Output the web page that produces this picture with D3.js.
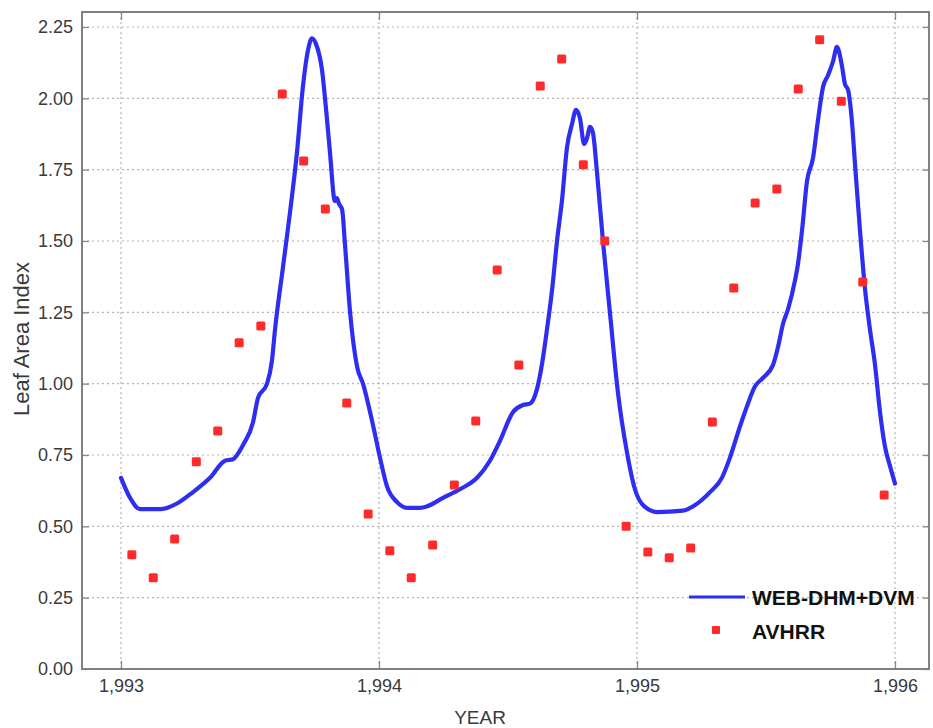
<!DOCTYPE html>
<html>
<head>
<meta charset="utf-8">
<script src="https://cdn.jsdelivr.net/npm/d3@7"></script>
<style>
  html, body { margin: 0; padding: 0; background: #fff; }
  svg { display: block; font-family: "Liberation Sans", Arial, sans-serif; }
</style>
</head>
<body>
<svg id="chart" width="933" height="728"></svg>
<script>
// ---- data ----
const modelYears = [
  1993.000, 1993.035, 1993.074, 1993.151, 1993.217, 1993.279, 1993.345, 1993.403, 1993.434, 1993.473,
  1993.512, 1993.531, 1993.566, 1993.585, 1993.597, 1993.628, 1993.655, 1993.682, 1993.705,
  1993.725, 1993.740, 1993.756, 1993.779, 1993.795, 1993.810, 1993.829, 1993.837, 1993.845, 1993.857,
  1993.868, 1993.888, 1993.915, 1993.938, 1993.973, 1994.004, 1994.031, 1994.070, 1994.109, 1994.159,
  1994.186, 1994.248, 1994.314, 1994.380, 1994.430, 1994.469, 1994.519, 1994.558, 1994.585, 1994.612,
  1994.632, 1994.651, 1994.671, 1994.690, 1994.709, 1994.729, 1994.748, 1994.764, 1994.779, 1994.795,
  1994.806, 1994.818, 1994.829, 1994.845, 1994.868, 1994.895, 1994.926, 1994.961, 1994.992, 1995.023,
  1995.078, 1995.178, 1995.217, 1995.283, 1995.329, 1995.360, 1995.399, 1995.426, 1995.457, 1995.488,
  1995.527, 1995.547, 1995.566, 1995.585, 1995.612, 1995.624, 1995.640, 1995.659, 1995.682, 1995.701,
  1995.721, 1995.740, 1995.760, 1995.775, 1995.795, 1995.806, 1995.818, 1995.833, 1995.845, 1995.864,
  1995.884, 1995.903, 1995.922, 1995.942, 1995.961, 1995.981, 1996.000
];
const modelLAI = [
  0.67, 0.60, 0.56, 0.56, 0.58, 0.62, 0.67, 0.73, 0.735, 0.785,
  0.866, 0.95, 1.00, 1.08, 1.19, 1.41, 1.60, 1.81, 2.04,
  2.17, 2.21, 2.19, 2.10, 1.96, 1.81, 1.64, 1.65, 1.63, 1.61,
  1.49, 1.25, 1.06, 1.00, 0.87, 0.74, 0.64, 0.585, 0.565, 0.565,
  0.57, 0.60, 0.63, 0.67, 0.73, 0.80, 0.90, 0.925, 0.93, 0.98,
  1.07, 1.19, 1.33, 1.50, 1.64, 1.83, 1.91, 1.96, 1.93, 1.84,
  1.86, 1.90, 1.88, 1.74, 1.50, 1.25, 0.97, 0.76, 0.63, 0.575,
  0.55, 0.555, 0.57, 0.62, 0.67, 0.74, 0.85, 0.92, 0.99, 1.02,
  1.065, 1.13, 1.21, 1.26, 1.36, 1.42, 1.54, 1.71, 1.79, 1.92,
  2.04, 2.08, 2.13, 2.18, 2.11, 2.05, 2.03, 1.92, 1.77, 1.54,
  1.33, 1.19, 1.07, 0.90, 0.78, 0.71, 0.65
];
const avhrrYears = [
  1993.042, 1993.125, 1993.208, 1993.292, 1993.375, 1993.458, 1993.542, 1993.625, 1993.708, 1993.792, 1993.875, 1993.958,
  1994.042, 1994.125, 1994.208, 1994.292, 1994.375, 1994.458, 1994.542, 1994.625, 1994.708, 1994.792, 1994.875, 1994.958,
  1995.042, 1995.125, 1995.208, 1995.292, 1995.375, 1995.458, 1995.542, 1995.625, 1995.708, 1995.792, 1995.875, 1995.958
];
const avhrrLAI = [
  0.40, 0.32, 0.456, 0.726, 0.834, 1.143, 1.202, 2.015, 1.78, 1.612, 0.932, 0.543,
  0.414, 0.32, 0.435, 0.645, 0.869, 1.398, 1.065, 2.043, 2.138, 1.767, 1.50, 0.50,
  0.41, 0.39, 0.424, 0.866, 1.335, 1.633, 1.682, 2.033, 2.205, 1.99, 1.356, 0.61
];
const xTicks = [1993, 1994, 1995, 1996];
const yTicks = [0, 0.25, 0.5, 0.75, 1.0, 1.25, 1.5, 1.75, 2.0, 2.25];
const seriesNames = ["WEB-DHM+DVM", "AVHRR"];

// ---- layout ----
const svg = d3.select("#chart");
const frame = { left: 82, top: 12, right: 929, bottom: 669 };
const x = d3.scaleLinear().domain([1993, 1996]).range([121, 895]);
const y = d3.scaleLinear().domain([0, 2.25]).range([669, 27]);
const lineColor = "#2e2ef2";
const dotColor = "#ff2b2b";
const fmtYear = d3.format(",d");

// grid
const grid = svg.append("g").attr("stroke", "#b4b4b4").attr("stroke-width", 1.2).attr("stroke-dasharray", "2,3");
grid.selectAll(".gy").data(yTicks.filter(d => d > 0)).join("line")
  .attr("x1", frame.left).attr("x2", frame.right)
  .attr("y1", d => y(d)).attr("y2", d => y(d));
grid.selectAll(".gx").data(xTicks).join("line")
  .attr("x1", d => x(d)).attr("x2", d => x(d))
  .attr("y1", frame.top).attr("y2", frame.bottom);

// axes
const axisLeft = svg.append("g").attr("transform", `translate(${frame.left},0)`)
  .call(d3.axisLeft(y).tickValues(yTicks).tickFormat(d3.format(".2f")).tickSize(-7).tickPadding(9));
const axisBottom = svg.append("g").attr("transform", `translate(0,${frame.bottom})`)
  .call(d3.axisBottom(x).tickValues(xTicks).tickFormat(fmtYear).tickSize(-8).tickPadding(10));
const axisRight = svg.append("g").attr("transform", `translate(${frame.right},0)`)
  .call(d3.axisRight(y).tickValues(yTicks).tickFormat("").tickSize(-6));
const axisTop = svg.append("g").attr("transform", `translate(0,${frame.top})`)
  .call(d3.axisTop(x).tickValues(xTicks).tickFormat("").tickSize(-8));
[axisLeft, axisBottom, axisRight, axisTop].forEach(g => {
  g.select(".domain").remove();
  g.selectAll(".tick line").attr("stroke", "#888").attr("stroke-width", 1.3);
  g.selectAll(".tick text").attr("fill", "#3a3a3a").style("font-size", "18px")
    .style("font-family", "'Liberation Sans', Arial, sans-serif");
});

// frame
svg.append("rect")
  .attr("x", frame.left).attr("y", frame.top)
  .attr("width", frame.right - frame.left).attr("height", frame.bottom - frame.top)
  .attr("fill", "none").attr("stroke", "#808080").attr("stroke-width", 2);

// model line
const modelData = modelYears.map((t, i) => ({ t, v: modelLAI[i] }));
svg.append("path").datum(modelData)
  .attr("fill", "none").attr("stroke", lineColor).attr("stroke-width", 4.2)
  .attr("stroke-linejoin", "round").attr("stroke-linecap", "round")
  .attr("d", d3.line().x(d => x(d.t)).y(d => y(d.v)).curve(d3.curveMonotoneX));

// AVHRR points
const avData = avhrrYears.map((t, i) => ({ t, v: avhrrLAI[i] }));
svg.append("g").selectAll("rect").data(avData).join("rect")
  .attr("x", d => x(d.t) - 4.5).attr("y", d => y(d.v) - 4.5)
  .attr("width", 9).attr("height", 9).attr("rx", 1.5)
  .attr("fill", dotColor);

// axis titles
svg.append("text").attr("x", 480).attr("y", 724).attr("text-anchor", "middle")
  .attr("fill", "#3a3a3a").style("font-size", "19px").text("YEAR");
svg.append("text").attr("transform", "translate(29,339) rotate(-90)").attr("text-anchor", "middle")
  .attr("fill", "#3a3a3a").style("font-size", "22px").text("Leaf Area Index");

// legend
const lg = svg.append("g");
lg.append("line").attr("x1", 689).attr("x2", 745).attr("y1", 597).attr("y2", 597)
  .attr("stroke", lineColor).attr("stroke-width", 3);
lg.append("rect").attr("x", 712).attr("y", 626).attr("width", 8).attr("height", 8).attr("rx", 1).attr("fill", dotColor);
lg.selectAll("text").data(seriesNames).join("text")
  .attr("x", 752).attr("y", (d, i) => 605 + i * 34)
  .attr("fill", "#111").style("font-size", "21px").style("font-weight", "bold")
  .text(d => d);
</script>
</body>
</html>
